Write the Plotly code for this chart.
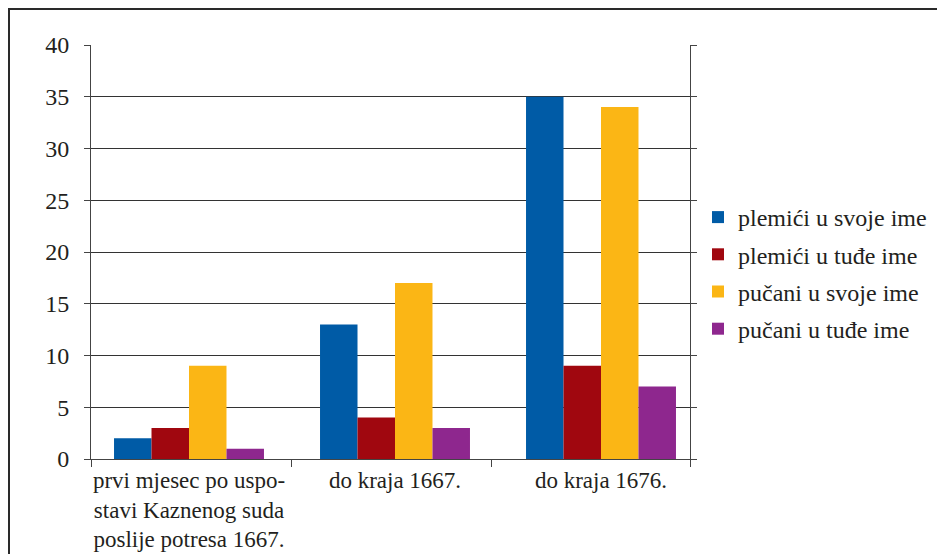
import plotly.graph_objects as go

categories = ["prvi mjesec po uspo-<br>stavi Kaznenog suda<br>poslije potresa 1667.",
              "do kraja 1667.", "do kraja 1676."]
series_names = ["plemići u svoje ime", "plemići u tuđe ime",
                "pučani u svoje ime", "pučani u tuđe ime"]
plemici_svoje = [2, 13, 35]
plemici_tude = [3, 4, 9]
pucani_svoje = [9, 17, 34]
pucani_tude = [1, 3, 7]
colors = ["#005BA6", "#A0070F", "#FBB615", "#8E278E"]
y_ticks = [0, 5, 10, 15, 20, 25, 30, 35, 40]

series_values = [plemici_svoje, plemici_tude, pucani_svoje, pucani_tude]
xpos = list(range(len(categories)))

font_family = "Liberation Serif"
text_color = "#231F20"
fs = 24

fig = go.Figure()
for i, (name, vals, col) in enumerate(zip(series_names, series_values, colors)):
    fig.add_trace(go.Bar(x=xpos, y=vals, name=name, legendgroup=f"g{i}",
                         marker=dict(color=col, line=dict(width=0))))
# invisible trace to activate the boundary-tick axis
fig.add_trace(go.Scatter(x=[xpos[0]], y=[0], xaxis="x2", mode="markers",
                         marker=dict(opacity=0), showlegend=False, hoverinfo="skip"))

# page body has an 8px margin; work in screen pixels and convert
OFF = 8
W, H = 945 - OFF, 554 - OFF
L, R, T, B = 91 - OFF, 690 - OFF, 45 - OFF, 459 - OFF
pw, ph = R - L, B - T

def px(x):
    return (x - OFF - L) / pw

def py(y):
    return (B - (y - OFF)) / ph

# category spacing & centres (screen px)
c0, step = 189, 206
xmin = (91 - c0) / step
xmax = len(categories) - 1 + (690 - (c0 + step * (len(categories) - 1))) / step
xr = [xmin, xmax]
boundary_px = [91, 291, 491, 690]
boundary_vals = [(b - c0) / step for b in boundary_px]

fig.update_layout(
    width=W, height=H,
    margin=dict(l=L, r=W - R, t=T, b=H - B, autoexpand=False),
    paper_bgcolor="white", plot_bgcolor="white",
    barmode="group", bargap=0.272, bargroupgap=0,
    font=dict(family=font_family, size=fs, color=text_color),
    showlegend=True,
    legend=dict(x=px(698), y=py(195), xanchor="left", yanchor="top",
                font=dict(size=fs, family=font_family, color=text_color),
                tracegroupgap=3, bgcolor="rgba(0,0,0,0)"),
    xaxis=dict(range=xr, tickvals=xpos, ticktext=categories, showline=True,
               linecolor="#444", linewidth=1, automargin=False, ticks="",
               showgrid=False, zeroline=False, tickangle=0,
               tickfont=dict(size=23, family=font_family)),
    xaxis2=dict(range=xr, overlaying="x", side="bottom", anchor="y",
                tickvals=boundary_vals, ticktext=[""] * len(boundary_vals),
                ticks="outside", ticklen=7, tickcolor="#444", showgrid=False,
                zeroline=False, showline=False, automargin=False),
    yaxis=dict(range=[0, 40], tickvals=y_ticks, showline=True, mirror="ticks",
               automargin=False,
               linecolor="#444", linewidth=1, ticks="outside", ticklen=6,
               tickcolor="#444", showgrid=True, gridcolor="#333", gridwidth=1,
               zeroline=False, ticklabelstandoff=10,
               tickfont=dict(size=fs, family=font_family)),
    shapes=[dict(type="rect", xref="paper", yref="paper",
                 x0=px(9), x1=px(980), y0=py(600), y1=py(9),
                 line=dict(color="#2a2a2a", width=2), fillcolor="rgba(0,0,0,0)",
                 layer="below")],
)

fig.write_html("out.html")
